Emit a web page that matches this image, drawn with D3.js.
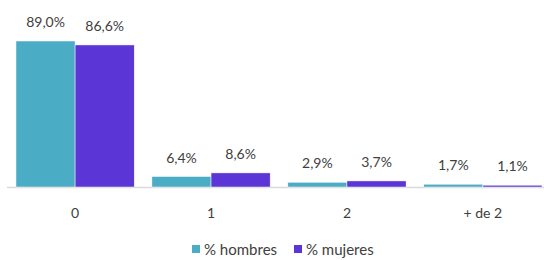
<!DOCTYPE html>
<html lang="es">
<head>
<meta charset="utf-8">
<script src="https://d3js.org/d3.v7.min.js"></script>
<style>
  body { margin: 0; background: #fff; font-family: Lato, "Open Sans", sans-serif; }
  text { fill: #404040; }
</style>
</head>
<body>
<div id="chart"></div>
<script>
var categories = ["0", "1", "2", "+ de 2"];
var hombres = [89.0, 6.4, 2.9, 1.7];
var mujeres = [86.6, 8.6, 3.7, 1.1];
var seriesNames = ["% hombres", "% mujeres"];
var colors = ["#4BACC6", "#5B35D5"];

var w = 544, h = 260;
var base = 187;

var svg = d3.select("#chart").append("svg")
  .attr("width", w).attr("height", h);

var x = d3.scaleBand().domain(categories).range([7, 551]).paddingInner(0.13).paddingOuter(0.066);
var x1 = d3.scaleBand().domain([0, 1]).range([0, x.bandwidth()]);
var y = d3.scaleLinear().domain([0, 89]).range([base, 41]);

var data = categories.map(function(c, i) { return { cat: c, vals: [hombres[i], mujeres[i]] }; });

// axis line
svg.append("line")
  .attr("x1", 7).attr("x2", w).attr("y1", base + 0.5).attr("y2", base + 0.5)
  .attr("stroke", "#d9d9d9").attr("stroke-width", 1.5);

var g = svg.selectAll(".grp").data(data).enter().append("g")
  .attr("transform", function(d) { return "translate(" + x(d.cat) + ",0)"; });

g.selectAll("rect").data(function(d) { return d.vals; }).enter().append("rect")
  .attr("x", function(d, i) { return x1(i); })
  .attr("y", function(d) { return y(d); })
  .attr("width", x1.bandwidth())
  .attr("height", function(d) { return base - y(d); })
  .attr("fill", function(d, i) { return colors[i]; })
  .attr("stroke", "#fff").attr("stroke-width", 0.5);

g.selectAll(".lbl").data(function(d) { return d.vals; }).enter().append("text")
  .attr("class", "lbl")
  .attr("x", function(d, i) { return x1(i) + x1.bandwidth() / 2; })
  .attr("y", function(d) { return y(d) - 14; })
  .attr("text-anchor", "middle")
  .attr("font-size", "14px")
  .text(function(d) { return d.toFixed(1).replace(".", ",") + "%"; });

// category labels
svg.selectAll(".cat").data(categories).enter().append("text")
  .attr("x", function(d) { return x(d) + x.bandwidth() / 2; })
  .attr("y", 218)
  .attr("text-anchor", "middle")
  .attr("font-size", "14px")
  .text(function(d) { return d; });

// legend
var legX = [192, 294];
var leg = svg.selectAll(".leg").data(seriesNames).enter().append("g")
  .attr("transform", function(d, i) { return "translate(" + legX[i] + ",0)"; });
leg.append("rect").attr("x", 0).attr("y", 245).attr("width", 8).attr("height", 8)
  .attr("fill", function(d, i) { return colors[i]; });
leg.append("text").attr("x", 12).attr("y", 255).attr("font-size", "15px")
  .text(function(d) { return d; });
</script>
</body>
</html>
